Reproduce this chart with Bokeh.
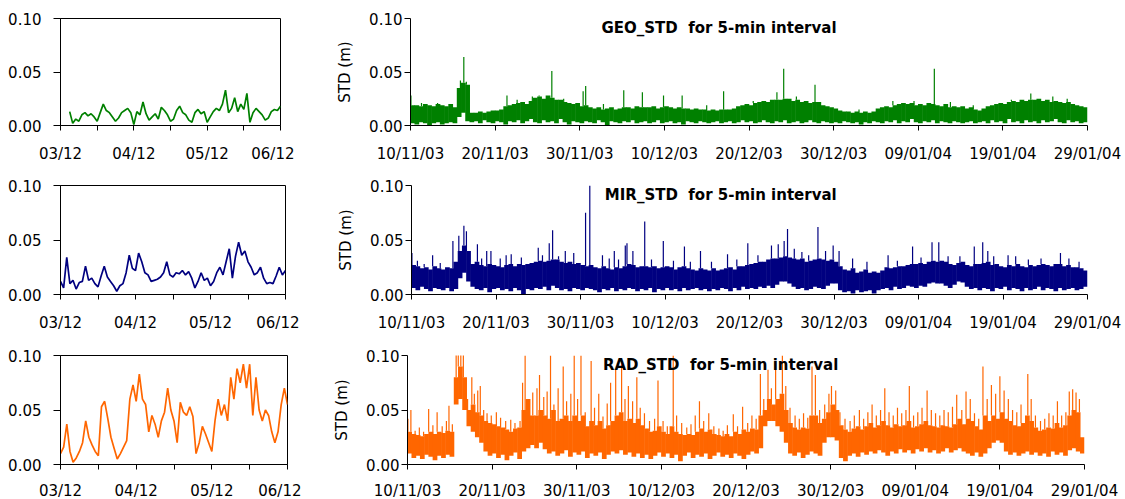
from bokeh.plotting import figure
from bokeh.layouts import column, row
from bokeh.models import Range1d, FixedTicker, Label, PrintfTickFormatter
from bokeh.embed import file_html
from bokeh.resources import INLINE

FONT = "DejaVu Sans"
GEO_COLOR = "#008000"
MIR_COLOR = "#000080"
RAD_COLOR = "#FF6600"

# ---------------- axes / labels ----------------
SMALL_TICKS = [0, 24, 48, 72]                      # hours since 03/12 00:00
SMALL_MINOR = [12, 36, 60]
SMALL_TICK_LABELS = ["03/12", "04/12", "05/12", "06/12"]
BIG_TICKS = [0, 10, 20, 30, 40, 50, 60, 70, 80]    # days since 10/11/03
BIG_TICK_LABELS = ["10/11/03", "20/11/03", "30/11/03", "10/12/03", "20/12/03",
                   "30/12/03", "09/01/04", "19/01/04", "29/01/04"]
Y_TICKS = [0.0, 0.05, 0.10]
TITLES = ["GEO_STD\u00a0\u00a0for 5-min interval", "MIR_STD\u00a0\u00a0for 5-min interval",
          "RAD_STD\u00a0\u00a0for 5-min interval"]
TITLE_DAY = [36.45, 36.6, 37.0]

# ---------------- small panels: hourly values, 03/12 - 06/12 ----------------
GEO_SMALL_START_HOUR = 3
GEO_SMALL = [0.013, 0.002, 0.006, 0.004, 0.010, 0.012, 0.009, 0.011, 0.008, 0.004,
             0.012, 0.020, 0.014, 0.012, 0.008, 0.004, 0.007, 0.012, 0.014, 0.016,
             0.012, 0.001, 0.013, 0.010, 0.022, 0.011, 0.005, 0.008, 0.011, 0.006,
             0.017, 0.014, 0.010, 0.004, 0.006, 0.014, 0.018, 0.012, 0.010, 0.005,
             0.003, 0.012, 0.015, 0.011, 0.013, 0.003, 0.008, 0.013, 0.016, 0.014,
             0.020, 0.033, 0.012, 0.016, 0.026, 0.013, 0.020, 0.015, 0.030, 0.003,
             0.012, 0.016, 0.013, 0.010, 0.005, 0.007, 0.013, 0.015, 0.014, 0.018]
MIR_SMALL_START_HOUR = 0
MIR_SMALL = [0.012, 0.006, 0.034, 0.010, 0.013, 0.005, 0.011, 0.012, 0.026, 0.013,
             0.015, 0.010, 0.007, 0.017, 0.026, 0.016, 0.012, 0.008, 0.003, 0.008,
             0.010, 0.020, 0.036, 0.024, 0.022, 0.038, 0.030, 0.020, 0.018, 0.012,
             0.013, 0.014, 0.016, 0.020, 0.030, 0.018, 0.016, 0.020, 0.019, 0.022,
             0.018, 0.021, 0.015, 0.006, 0.012, 0.020, 0.013, 0.015, 0.008, 0.012,
             0.020, 0.025, 0.018, 0.030, 0.042, 0.015, 0.035, 0.048, 0.036, 0.040,
             0.030, 0.025, 0.018, 0.020, 0.025, 0.015, 0.010, 0.011, 0.010, 0.017,
             0.025, 0.018, 0.022]
RAD_SMALL_START_HOUR = 0
RAD_SMALL = [0.010, 0.016, 0.037, 0.012, 0.002, 0.006, 0.012, 0.020, 0.040, 0.025,
             0.018, 0.012, 0.008, 0.053, 0.058, 0.042, 0.025, 0.015, 0.005, 0.010,
             0.016, 0.022, 0.060, 0.073, 0.058, 0.083, 0.060, 0.055, 0.030, 0.045,
             0.037, 0.025, 0.040, 0.048, 0.070, 0.050, 0.040, 0.020, 0.057, 0.048,
             0.045, 0.053, 0.044, 0.010, 0.020, 0.035, 0.028, 0.020, 0.012, 0.040,
             0.060, 0.045, 0.055, 0.040, 0.080, 0.060, 0.088, 0.075, 0.092, 0.070,
             0.092, 0.045, 0.080, 0.050, 0.040, 0.050, 0.045, 0.030, 0.020, 0.030,
             0.055, 0.070, 0.055]

# ---------------- big panels: dense band per half day (top / bottom) + spikes ----------------
BIG_STEP_DAYS = 0.5
GEO_TOP = [0.019, 0.019, 0.018, 0.020, 0.019, 0.018, 0.020, 0.019, 0.018, 0.020,
           0.017, 0.035, 0.040, 0.038, 0.012, 0.012, 0.013, 0.012, 0.013, 0.014,
           0.014, 0.015, 0.018, 0.019, 0.020, 0.021, 0.022, 0.020, 0.023, 0.026,
           0.027, 0.025, 0.028, 0.026, 0.024, 0.024, 0.022, 0.021, 0.020, 0.021,
           0.018, 0.019, 0.017, 0.016, 0.017, 0.015, 0.016, 0.017, 0.015, 0.016,
           0.017, 0.017, 0.016, 0.018, 0.017, 0.017, 0.017, 0.018, 0.016, 0.017,
           0.018, 0.017, 0.016, 0.017, 0.016, 0.016, 0.015, 0.016, 0.015, 0.015,
           0.014, 0.015, 0.014, 0.015, 0.015, 0.015, 0.016, 0.018, 0.019, 0.020,
           0.019, 0.021, 0.022, 0.023, 0.022, 0.024, 0.024, 0.024, 0.025, 0.025,
           0.023, 0.024, 0.022, 0.023, 0.021, 0.022, 0.022, 0.019, 0.018, 0.017,
           0.016, 0.014, 0.013, 0.013, 0.012, 0.013, 0.012, 0.013, 0.012, 0.013,
           0.016, 0.017, 0.018, 0.017, 0.019, 0.020, 0.021, 0.020, 0.021, 0.019,
           0.020, 0.019, 0.021, 0.020, 0.019, 0.018, 0.020, 0.017, 0.018, 0.017,
           0.018, 0.016, 0.017, 0.015, 0.014, 0.016, 0.018, 0.019, 0.020, 0.021,
           0.020, 0.022, 0.023, 0.022, 0.024, 0.023, 0.024, 0.024, 0.025, 0.023,
           0.024, 0.022, 0.023, 0.022, 0.021, 0.022, 0.020, 0.019, 0.018, 0.017]
GEO_BOT = [0.002, 0.001, 0.003, 0.002, 0.000, 0.002, 0.003, 0.001, 0.002, 0.003,
           0.002, 0.008, 0.012, 0.004, 0.003, 0.004, 0.002, 0.005, 0.003, 0.002,
           0.004, 0.003, 0.001, 0.004, 0.003, 0.005, 0.002, 0.004, 0.006, 0.003,
           0.002, 0.005, 0.003, 0.004, 0.002, 0.006, 0.003, 0.001, 0.004, 0.003,
           0.002, 0.004, 0.003, 0.002, 0.005, 0.003, 0.000, 0.004, 0.003, 0.002,
           0.004, 0.003, 0.005, 0.002, 0.003, 0.004, 0.002, 0.003, 0.005, 0.002,
           0.003, 0.004, 0.002, 0.003, 0.001, 0.004, 0.003, 0.002, 0.004, 0.003,
           0.002, 0.003, 0.004, 0.002, 0.003, 0.004, 0.002, 0.003, 0.005, 0.003,
           0.004, 0.002, 0.003, 0.005, 0.003, 0.002, 0.004, 0.003, 0.005, 0.002,
           0.003, 0.004, 0.002, 0.003, 0.005, 0.003, 0.002, 0.004, 0.003, 0.002,
           0.003, 0.002, 0.004, 0.003, 0.002, 0.003, 0.001, 0.003, 0.002, 0.004,
           0.003, 0.002, 0.004, 0.003, 0.005, 0.002, 0.004, 0.003, 0.006, 0.003,
           0.002, 0.004, 0.003, 0.005, 0.002, 0.004, 0.003, 0.002, 0.004, 0.003,
           0.002, 0.003, 0.004, 0.002, 0.003, 0.004, 0.002, 0.005, 0.003, 0.004,
           0.002, 0.006, 0.003, 0.004, 0.002, 0.005, 0.003, 0.004, 0.002, 0.005,
           0.003, 0.004, 0.006, 0.003, 0.002, 0.005, 0.003, 0.004, 0.002, 0.003]
GEO_SPIKE_DAY = [0.05, 1.3, 3.2, 5.9, 6.3, 6.6, 11.4, 12.6, 14.4, 15.2, 16.7, 18.1,
                 20.4, 20.7, 22.8, 25.2, 27.4, 29.9, 32.1, 35.0, 37.0, 40.5, 43.3,
                 44.1, 45.6, 47.8, 53.0, 57.0, 59.5, 61.9, 63.8, 66.5, 71.0, 73.3,
                 75.9, 77.6]
GEO_SPIKE_VAL = [0.028, 0.021, 0.021, 0.042, 0.064, 0.041, 0.028, 0.024, 0.027, 0.028,
                 0.051, 0.025, 0.032, 0.037, 0.020, 0.033, 0.031, 0.028, 0.028, 0.019,
                 0.032, 0.023, 0.031, 0.053, 0.027, 0.038, 0.015, 0.023, 0.023, 0.053,
                 0.022, 0.019, 0.024, 0.030, 0.027, 0.025]

MIR_TOP = [0.027, 0.026, 0.024, 0.025, 0.023, 0.026, 0.024, 0.023, 0.025, 0.024,
           0.030, 0.040, 0.045, 0.040, 0.028, 0.030, 0.027, 0.026, 0.028, 0.027,
           0.026, 0.025, 0.027, 0.028, 0.026, 0.028, 0.027, 0.028, 0.029, 0.030,
           0.031, 0.030, 0.031, 0.032, 0.032, 0.030, 0.029, 0.030, 0.028, 0.029,
           0.027, 0.026, 0.027, 0.025, 0.024, 0.026, 0.024, 0.023, 0.025, 0.024,
           0.026, 0.028, 0.027, 0.025, 0.026, 0.026, 0.025, 0.026, 0.024, 0.025,
           0.026, 0.025, 0.023, 0.025, 0.026, 0.024, 0.023, 0.022, 0.024, 0.023,
           0.022, 0.024, 0.022, 0.023, 0.024, 0.025, 0.023, 0.026, 0.026, 0.027,
           0.028, 0.029, 0.030, 0.030, 0.032, 0.033, 0.033, 0.034, 0.035, 0.034,
           0.033, 0.032, 0.033, 0.030, 0.031, 0.032, 0.033, 0.032, 0.031, 0.032,
           0.030, 0.026, 0.023, 0.022, 0.024, 0.020, 0.021, 0.023, 0.020, 0.021,
           0.020, 0.022, 0.025, 0.024, 0.025, 0.026, 0.026, 0.027, 0.028, 0.028,
           0.029, 0.028, 0.030, 0.031, 0.030, 0.031, 0.030, 0.028, 0.027, 0.029,
           0.030, 0.027, 0.026, 0.028, 0.028, 0.029, 0.030, 0.027, 0.028, 0.026,
           0.025, 0.027, 0.026, 0.028, 0.026, 0.025, 0.027, 0.026, 0.027, 0.028,
           0.027, 0.026, 0.028, 0.028, 0.026, 0.027, 0.025, 0.025, 0.024, 0.022]
MIR_BOT = [0.006, 0.004, 0.007, 0.005, 0.003, 0.006, 0.005, 0.004, 0.006, 0.003,
           0.005, 0.015, 0.020, 0.012, 0.007, 0.005, 0.004, 0.006, 0.002, 0.005,
           0.006, 0.004, 0.005, 0.003, 0.006, 0.004, 0.000, 0.005, 0.004, 0.006,
           0.005, 0.007, 0.004, 0.008, 0.006, 0.004, 0.005, 0.003, 0.006, 0.005,
           0.004, 0.006, 0.005, 0.004, 0.002, 0.005, 0.004, 0.006, 0.003, 0.005,
           0.004, 0.006, 0.005, 0.003, 0.005, 0.004, 0.006, 0.002, 0.005, 0.004,
           0.006, 0.004, 0.005, 0.003, 0.006, 0.004, 0.005, 0.006, 0.004, 0.005,
           0.003, 0.005, 0.004, 0.006, 0.005, 0.003, 0.006, 0.004, 0.007, 0.005,
           0.006, 0.005, 0.007, 0.006, 0.008, 0.006, 0.009, 0.012, 0.012, 0.010,
           0.007, 0.005, 0.006, 0.004, 0.005, 0.007, 0.006, 0.005, 0.008, 0.010,
           0.010, 0.004, 0.002, 0.003, 0.001, 0.004, 0.002, 0.003, 0.004, 0.001,
           0.004, 0.005, 0.006, 0.004, 0.007, 0.005, 0.006, 0.008, 0.007, 0.006,
           0.008, 0.007, 0.010, 0.011, 0.010, 0.010, 0.008, 0.006, 0.009, 0.012,
           0.011, 0.007, 0.005, 0.006, 0.004, 0.006, 0.005, 0.003, 0.006, 0.005,
           0.007, 0.004, 0.006, 0.005, 0.003, 0.006, 0.004, 0.005, 0.007, 0.004,
           0.006, 0.005, 0.003, 0.006, 0.004, 0.005, 0.006, 0.004, 0.005, 0.007]
MIR_SPIKE_DAY = [0.05, 0.7, 1.5, 2.5, 3.4, 4.9, 5.6, 6.2, 6.5, 7.8, 8.3, 8.9, 9.4,
                 10.5, 11.2, 11.8, 13.0, 15.0, 15.5, 16.3, 16.7, 17.4, 18.2, 19.2,
                 20.6, 21.1, 22.6, 23.4, 24.0, 24.5, 25.3, 25.5, 26.2, 27.6, 28.4,
                 29.8, 31.0, 32.3, 33.0, 34.2, 35.5, 37.4, 38.5, 39.8, 41.0, 42.6,
                 43.4, 44.1, 44.5, 45.3, 46.2, 47.0, 48.1, 49.0, 49.9, 50.6, 52.2,
                 53.9, 56.4, 57.5, 59.3, 60.3, 61.6, 62.4, 63.5, 64.9, 66.6, 67.6,
                 68.2, 68.9, 70.6, 71.5, 73.0, 74.5, 76.8, 77.8, 79.0]
MIR_SPIKE_VAL = [0.038, 0.031, 0.028, 0.036, 0.029, 0.049, 0.054, 0.063, 0.058, 0.046,
                 0.033, 0.040, 0.040, 0.033, 0.036, 0.037, 0.034, 0.043, 0.036, 0.047,
                 0.059, 0.035, 0.040, 0.038, 0.075, 0.100, 0.036, 0.033, 0.040, 0.032,
                 0.045, 0.047, 0.040, 0.067, 0.032, 0.049, 0.031, 0.044, 0.030, 0.040,
                 0.030, 0.037, 0.032, 0.047, 0.036, 0.045, 0.046, 0.049, 0.060, 0.042,
                 0.039, 0.036, 0.062, 0.040, 0.045, 0.040, 0.033, 0.030, 0.036, 0.031,
                 0.044, 0.034, 0.048, 0.048, 0.035, 0.035, 0.044, 0.048, 0.040, 0.035,
                 0.036, 0.035, 0.032, 0.033, 0.038, 0.033, 0.030]

RAD_TOP = [0.030, 0.028, 0.027, 0.026, 0.028, 0.030, 0.028, 0.030, 0.029, 0.031,
           0.030, 0.080, 0.090, 0.080, 0.050, 0.055, 0.048, 0.045, 0.040, 0.038,
           0.037, 0.035, 0.034, 0.032, 0.030, 0.033, 0.034, 0.050, 0.060, 0.045,
           0.045, 0.050, 0.045, 0.042, 0.050, 0.040, 0.042, 0.045, 0.040, 0.045,
           0.040, 0.045, 0.035, 0.040, 0.036, 0.040, 0.033, 0.036, 0.040, 0.045,
           0.048, 0.040, 0.042, 0.038, 0.042, 0.036, 0.033, 0.030, 0.031, 0.035,
           0.030, 0.028, 0.035, 0.030, 0.028, 0.027, 0.028, 0.027, 0.030, 0.033,
           0.030, 0.032, 0.028, 0.027, 0.026, 0.028, 0.026, 0.030, 0.028, 0.032,
           0.030, 0.033, 0.032, 0.045, 0.050, 0.060, 0.055, 0.060, 0.065, 0.050,
           0.038, 0.034, 0.032, 0.034, 0.033, 0.045, 0.045, 0.038, 0.042, 0.048,
           0.055, 0.050, 0.036, 0.032, 0.030, 0.033, 0.035, 0.032, 0.035, 0.038,
           0.034, 0.036, 0.040, 0.036, 0.034, 0.037, 0.035, 0.036, 0.040, 0.034,
           0.035, 0.037, 0.040, 0.036, 0.035, 0.034, 0.036, 0.035, 0.034, 0.037,
           0.042, 0.037, 0.042, 0.040, 0.035, 0.032, 0.045, 0.040, 0.045, 0.042,
           0.048, 0.042, 0.040, 0.036, 0.035, 0.038, 0.045, 0.040, 0.034, 0.031,
           0.032, 0.034, 0.033, 0.038, 0.034, 0.036, 0.045, 0.050, 0.048, 0.025]
RAD_BOT = [0.010, 0.006, 0.008, 0.005, 0.009, 0.007, 0.004, 0.008, 0.006, 0.009,
           0.007, 0.055, 0.060, 0.050, 0.035, 0.030, 0.025, 0.020, 0.012, 0.008,
           0.010, 0.006, 0.009, 0.004, 0.008, 0.011, 0.005, 0.012, 0.015, 0.018,
           0.015, 0.020, 0.014, 0.010, 0.012, 0.008, 0.010, 0.013, 0.007, 0.011,
           0.009, 0.012, 0.006, 0.010, 0.008, 0.011, 0.005, 0.009, 0.012, 0.010,
           0.013, 0.009, 0.011, 0.007, 0.010, 0.006, 0.009, 0.005, 0.008, 0.011,
           0.007, 0.010, 0.006, 0.009, 0.003, 0.008, 0.011, 0.006, 0.009, 0.007,
           0.010, 0.005, 0.008, 0.011, 0.007, 0.009, 0.006, 0.010, 0.008, 0.005,
           0.009, 0.012, 0.010, 0.015, 0.035, 0.040, 0.040, 0.035, 0.030, 0.020,
           0.010, 0.008, 0.011, 0.006, 0.009, 0.012, 0.010, 0.008, 0.020, 0.025,
           0.025, 0.022, 0.006, 0.003, 0.008, 0.010, 0.007, 0.011, 0.009, 0.012,
           0.010, 0.013, 0.011, 0.008, 0.012, 0.010, 0.014, 0.011, 0.013, 0.010,
           0.014, 0.012, 0.015, 0.011, 0.013, 0.010, 0.012, 0.015, 0.011, 0.013,
           0.015, 0.012, 0.010, 0.008, 0.011, 0.007, 0.010, 0.015, 0.020, 0.022,
           0.020, 0.012, 0.009, 0.011, 0.008, 0.010, 0.012, 0.009, 0.011, 0.008,
           0.010, 0.007, 0.012, 0.009, 0.011, 0.008, 0.013, 0.015, 0.012, 0.010]
RAD_SPIKE_DAY = [0.05, 0.4, 0.9, 1.4, 1.9, 2.5, 3.0, 3.5, 4.1, 4.6, 4.9, 5.3,
                 5.75, 6.0, 6.3, 6.6, 7.1, 7.6, 7.9, 8.3, 8.6, 9.0, 9.4, 9.9,
                 10.5, 11.0, 11.6, 12.2, 12.7, 13.3, 13.6, 13.9, 14.4, 14.8, 15.3,
                 15.6, 16.1, 16.5, 16.9, 17.3, 17.8, 18.4, 18.8, 19.3, 19.7, 20.1,
                 20.5, 21.0, 21.7, 22.1, 22.6, 23.1, 23.6, 24.0, 24.6, 25.3, 25.7,
                 26.1, 26.6, 27.1, 27.5, 28.0, 28.6, 29.2, 29.6, 30.2, 30.7, 31.4,
                 31.8, 32.4, 33.0, 33.5, 34.0, 34.5, 35.0, 35.6, 36.2, 36.8, 37.3,
                 37.8, 38.5, 39.0, 39.6, 40.2, 40.7, 41.2, 41.7, 42.1, 42.6, 43.0,
                 43.5, 44.3, 44.7, 45.2, 45.8, 46.3, 46.8, 47.3, 47.8, 48.2, 48.7,
                 49.3, 49.8, 50.1, 50.6, 51.1, 51.7, 52.3, 52.8, 53.4, 53.9, 54.4,
                 54.9, 55.4, 55.9, 56.4, 56.9, 57.4, 57.9, 58.4, 58.9, 59.3, 59.8,
                 60.3, 60.8, 61.4, 61.9, 62.4, 62.9, 63.4, 63.9, 64.4, 64.9, 65.5,
                 66.0, 66.5, 67.0, 67.5, 68.0, 68.5, 69.0, 69.5, 70.0, 70.5, 71.0,
                 71.5, 72.0, 72.5, 73.3, 73.7, 74.2, 74.8, 75.3, 75.8, 76.3, 76.8,
                 77.3, 77.8, 78.2, 78.6, 79.0, 79.4]
RAD_SPIKE_VAL = [0.042, 0.050, 0.031, 0.034, 0.030, 0.051, 0.036, 0.048, 0.035, 0.040,
                 0.054, 0.037, 0.110, 0.120, 0.115, 0.110, 0.060, 0.080, 0.065, 0.068,
                 0.072, 0.050, 0.047, 0.045, 0.048, 0.043, 0.040, 0.041, 0.038, 0.040,
                 0.075, 0.100, 0.060, 0.066, 0.070, 0.082, 0.062, 0.067, 0.100, 0.055,
                 0.070, 0.090, 0.058, 0.065, 0.100, 0.060, 0.100, 0.048, 0.095, 0.052,
                 0.065, 0.044, 0.056, 0.075, 0.087, 0.093, 0.060, 0.072, 0.058, 0.080,
                 0.052, 0.047, 0.040, 0.042, 0.077, 0.040, 0.035, 0.100, 0.045, 0.038,
                 0.034, 0.037, 0.045, 0.058, 0.040, 0.047, 0.035, 0.033, 0.031, 0.036,
                 0.046, 0.035, 0.053, 0.038, 0.045, 0.042, 0.083, 0.060, 0.087, 0.070,
                 0.095, 0.100, 0.072, 0.052, 0.045, 0.042, 0.047, 0.043, 0.090, 0.082,
                 0.050, 0.055, 0.065, 0.072, 0.068, 0.048, 0.042, 0.040, 0.045, 0.050,
                 0.042, 0.048, 0.055, 0.045, 0.050, 0.070, 0.048, 0.045, 0.052, 0.047,
                 0.050, 0.072, 0.045, 0.048, 0.052, 0.068, 0.050, 0.047, 0.045, 0.050,
                 0.048, 0.053, 0.064, 0.050, 0.067, 0.060, 0.047, 0.042, 0.090, 0.060,
                 0.073, 0.065, 0.081, 0.068, 0.060, 0.050, 0.048, 0.055, 0.083, 0.060,
                 0.045, 0.040, 0.042, 0.047, 0.045, 0.058, 0.045, 0.048, 0.067, 0.069,
                 0.066, 0.060]

# ---------------- layout (page pixels) ----------------
ROW_TOP = [18, 10, 10]
FRAME_H = [107, 109, 109]
ROW_BOTTOM = [50, 51, 34]
X_STANDOFF = [14, 14, 12]
LEFT_FRAME_W = [220, 225, 227]
RIGHT_FRAME_X = [410, 411, 407]
RIGHT_FRAME_W = [677, 676, 677]
PAGE_W = 1124


def style_common(p):
    p.grid.visible = False
    p.background_fill_color = "white"
    p.border_fill_color = "white"
    for ax in (p.xaxis[0], p.yaxis[0]):
        ax.axis_line_color = "black"
        ax.axis_line_width = 1
        ax.major_tick_line_color = "black"
        ax.minor_tick_line_color = "black"
        ax.major_tick_in = 0
        ax.minor_tick_in = 0
        ax.major_label_text_font = FONT
        ax.major_label_text_font_size = "15px"
        ax.major_label_text_color = "black"
    p.yaxis.ticker = FixedTicker(ticks=Y_TICKS, minor_ticks=[])
    p.yaxis.formatter = PrintfTickFormatter(format="%.2f")


def small_fig(values, start_hour, color, r):
    p = figure(frame_width=LEFT_FRAME_W[r], frame_height=FRAME_H[r],
               x_range=Range1d(0, 72), y_range=Range1d(0, 0.1),
               output_backend="svg", toolbar_location=None,
               min_border_left=60, min_border_right=14,
               min_border_top=ROW_TOP[r], min_border_bottom=ROW_BOTTOM[r])
    hours = [start_hour + i for i in range(len(values))]
    p.line(hours, values, line_color=color, line_width=1.7)
    style_common(p)
    p.outline_line_color = "black"
    p.outline_line_width = 1
    p.xaxis.ticker = FixedTicker(ticks=SMALL_TICKS, minor_ticks=SMALL_MINOR)
    p.xaxis.major_label_overrides = {t: l for t, l in zip(SMALL_TICKS, SMALL_TICK_LABELS)}
    p.xaxis.major_tick_out = 5
    p.xaxis.minor_tick_out = 5
    p.xaxis.major_label_standoff = X_STANDOFF[r]
    p.yaxis.major_tick_out = 7
    p.yaxis.major_label_standoff = 12
    return p


def big_fig(top, bot, sp_day, sp_val, color, title, title_day, r, left_start):
    right_border = PAGE_W - RIGHT_FRAME_X[r] - RIGHT_FRAME_W[r]
    p = figure(frame_width=RIGHT_FRAME_W[r], frame_height=FRAME_H[r],
               x_range=Range1d(0, 80), y_range=Range1d(0, 0.1),
               output_backend="svg", toolbar_location=None,
               min_border_left=RIGHT_FRAME_X[r] - left_start, min_border_right=right_border,
               min_border_top=ROW_TOP[r], min_border_bottom=ROW_BOTTOM[r])
    centers = [k * BIG_STEP_DAYS + BIG_STEP_DAYS / 2 for k in range(len(top))]
    p.vbar(x=centers, width=BIG_STEP_DAYS * 1.12, bottom=bot, top=top,
           fill_color=color, line_color=None)
    base = [top[min(int(d / BIG_STEP_DAYS), len(top) - 1)] for d in sp_day]
    p.segment(x0=sp_day, y0=base, x1=sp_day, y1=sp_val, line_color=color, line_width=1.2)
    style_common(p)
    p.outline_line_color = None
    p.xaxis.ticker = FixedTicker(ticks=BIG_TICKS, minor_ticks=[])
    p.xaxis.major_label_overrides = {t: l for t, l in zip(BIG_TICKS, BIG_TICK_LABELS)}
    p.xaxis.major_tick_out = 5
    p.xaxis.major_label_standoff = X_STANDOFF[r]
    p.yaxis.major_tick_out = 6
    p.yaxis.major_label_standoff = 2
    p.yaxis.axis_label = "STD (m)"
    p.yaxis.axis_label_text_font = FONT
    p.yaxis.axis_label_text_font_size = "15px"
    p.yaxis.axis_label_text_font_style = "normal"
    p.yaxis.axis_label_text_color = "black"
    p.yaxis.axis_label_standoff = 12
    p.add_layout(Label(x=title_day, y=0.1, text=title, text_font=FONT,
                       text_font_size="15px", text_font_style="bold",
                       text_color="black", text_align="center",
                       text_baseline="top"))
    return p


specs = [
    (GEO_SMALL, GEO_SMALL_START_HOUR, GEO_TOP, GEO_BOT, GEO_SPIKE_DAY, GEO_SPIKE_VAL, GEO_COLOR),
    (MIR_SMALL, MIR_SMALL_START_HOUR, MIR_TOP, MIR_BOT, MIR_SPIKE_DAY, MIR_SPIKE_VAL, MIR_COLOR),
    (RAD_SMALL, RAD_SMALL_START_HOUR, RAD_TOP, RAD_BOT, RAD_SPIKE_DAY, RAD_SPIKE_VAL, RAD_COLOR),
]
rows = []
for r, (sv, sh, top, bot, sd, sval, col) in enumerate(specs):
    left = small_fig(sv, sh, col, r)
    left_start = 60 + LEFT_FRAME_W[r] + 14
    right = big_fig(top, bot, sd, sval, col, TITLES[r], TITLE_DAY[r], r, left_start)
    rows.append(row(left, right))

layout = column(*rows)
open("out.html", "w").write(file_html(layout, INLINE))
